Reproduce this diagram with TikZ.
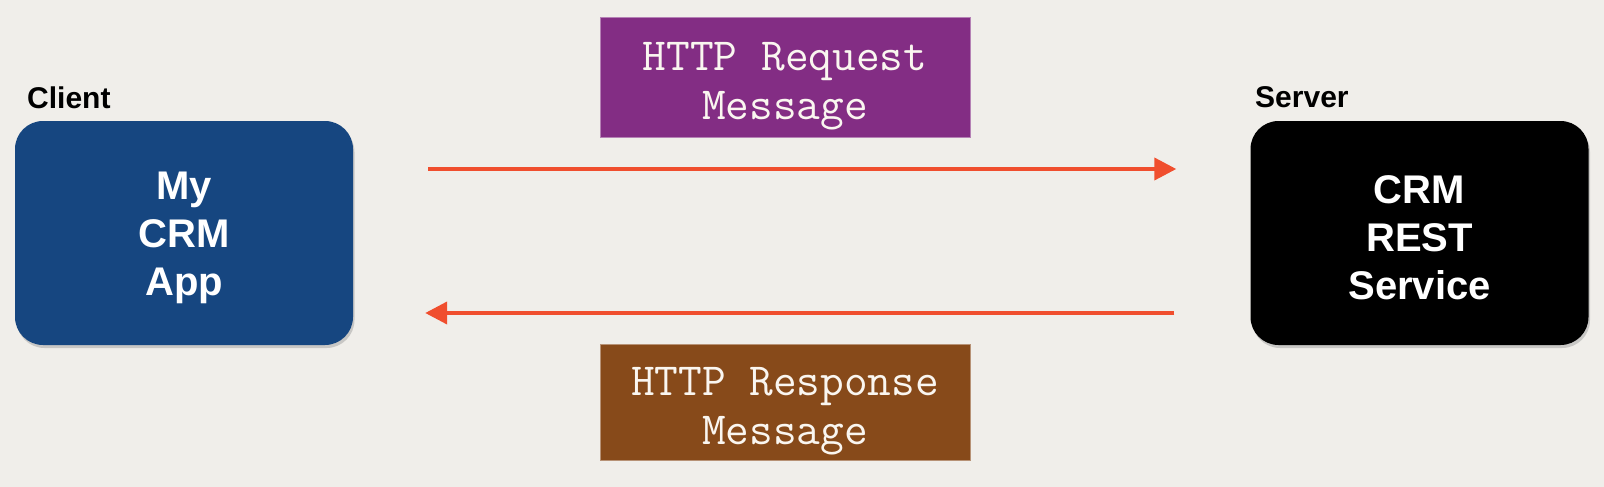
\documentclass[tikz,border=0pt]{standalone}
\usepackage{fontspec}
\setmainfont{Liberation Sans}
\usetikzlibrary{arrows.meta,shadows,calc}
\definecolor{bg}{RGB}{240,238,234}
\definecolor{clientblue}{RGB}{22,70,128}
\definecolor{reqpurple}{RGB}{131,45,132}
\definecolor{resbrown}{RGB}{135,74,26}
\definecolor{arrowred}{RGB}{240,78,46}
\definecolor{msgtext}{RGB}{250,246,240}
\tikzset{
  appbox/.style={rounded corners=28pt, minimum width=338pt, minimum height=224pt,
    inner sep=0pt, text=white, align=center,
    font=\fontsize{40}{48}\selectfont\bfseries,
    drop shadow={opacity=0.35, shadow xshift=1.5pt, shadow yshift=-3pt}},
  msgbox/.style={minimum width=370pt, inner sep=0pt, text=msgtext, align=center,
    font=\ttfamily\fontsize{46}{49}\selectfont, line width=1pt},
  lbl/.style={anchor=base west, inner sep=0pt, font=\fontsize{30}{36}\selectfont\bfseries},
  flow/.style={draw=arrowred, line width=4pt, -{Triangle[length=22pt,width=22pt]}}
}
\newcommand{\topstrut}[1]{\rule{0pt}{#1}}
\begin{document}
\begin{tikzpicture}[x=1pt,y=-1pt]
\fill[bg] (0,0) rectangle (1604,487);
\useasboundingbox (0,0) rectangle (1604,487);

\node[appbox, fill=clientblue] (client) at (184,233) {\topstrut{37pt}My\\CRM\\App};
\node[appbox, fill=black] (server) at (1419.5,233) {\topstrut{37pt}CRM\\REST\\Service};

\node[lbl] (clientlbl) at (27,108) {Client};
\node[lbl] (serverlbl) at (1255,107) {Server};

\node[msgbox, minimum height=119pt, fill=reqpurple, draw=reqpurple!60!white] (req) at (785,77.5) {\topstrut{46pt}HTTP Request\\Message};
\node[msgbox, minimum height=116pt, fill=resbrown, draw=resbrown!60!white] (res) at (785,402) {\topstrut{46pt}HTTP Response\\Message};

\draw[flow, shorten <=75pt, shorten >=74pt] ([yshift=64pt]client.east) -- ([yshift=64pt]server.west);
\draw[flow, shorten <=76pt, shorten >=72pt] ([yshift=-80pt]server.west) -- ([yshift=-80pt]client.east);
\end{tikzpicture}
\end{document}
